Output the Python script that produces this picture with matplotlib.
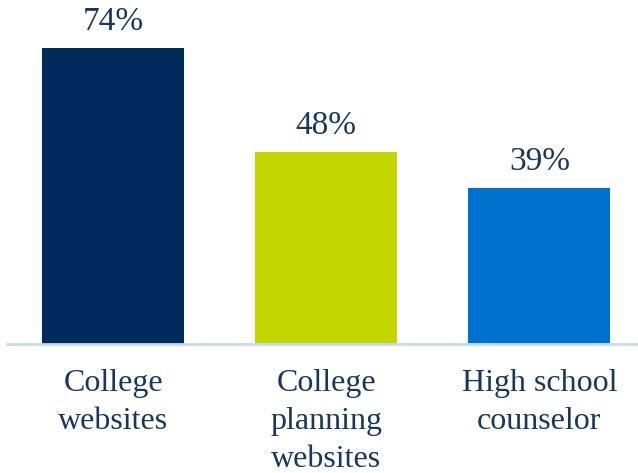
import matplotlib
matplotlib.use("Agg")
import matplotlib.pyplot as plt

categories = ["College\nwebsites", "College\nplanning\nwebsites", "High school\ncounselor"]
values = [74, 48, 39]
colors = ["#002B5C", "#C4D600", "#0072CE"]
text_color = "#17375E"

plt.rcParams['font.family'] = ['Liberation Serif', 'DejaVu Serif']

fig = plt.figure(figsize=(6.38, 4.73), dpi=100)
# axes spans from the top edge down to the baseline
ax = fig.add_axes([7 / 638, 129 / 473, 631 / 638, 344 / 473])

x = range(len(values))
bars = ax.bar(x, values, width=0.667, color=colors, zorder=2)
ax.set_xlim(-0.498, 2.463)
ax.set_ylim(0, 86)

for b, v in zip(bars, values):
    ax.annotate(f"{v}%", (b.get_x() + b.get_width() / 2, v), xytext=(0, 8),
                textcoords="offset points", ha="center", va="bottom",
                fontsize=24, color=text_color)

for s in ["top", "right", "left"]:
    ax.spines[s].set_visible(False)
ax.spines["bottom"].set_color("#C5DCF2")
ax.spines["bottom"].set_linewidth(2)
ax.set_yticks([])
ax.set_xticks(list(x))
ax.set_xticklabels(categories, fontsize=23, color=text_color, linespacing=1.42)
ax.tick_params(axis="x", length=0, pad=18)

fig.savefig("out.png", dpi=100)
